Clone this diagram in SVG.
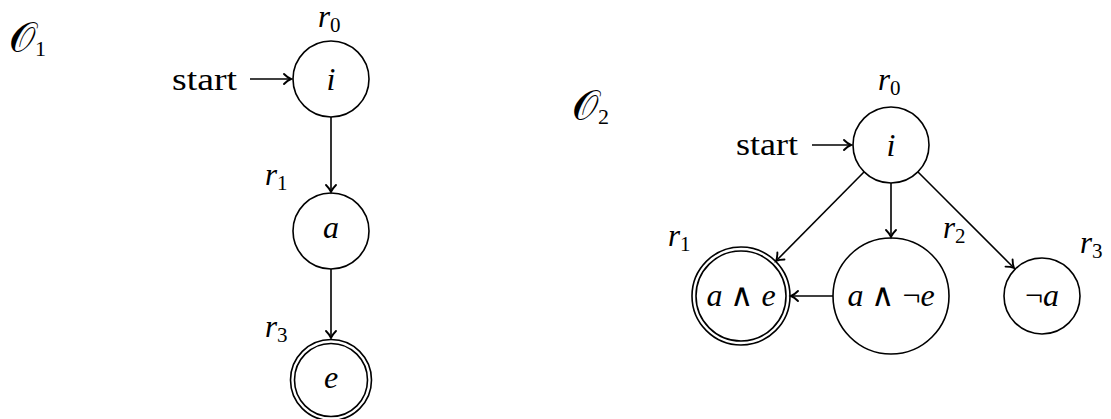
<svg xmlns="http://www.w3.org/2000/svg" width="1111" height="419" viewBox="0 0 1111 419">
<style>
.st{fill:none;stroke:#000;stroke-width:1.6}
.e{stroke:#000;stroke-width:1.6;fill:none;marker-end:url(#ah)}
</style>
<defs>
<marker id="ah" markerUnits="userSpaceOnUse" markerWidth="20" markerHeight="20" viewBox="-10 -10 20 20" refX="0" refY="0" orient="auto" overflow="visible">
<path d="M-7,-5 C-4,-2 -1.5,-0.6 0,0 C-1.5,0.6 -4,2 -7,5" fill="none" stroke="#000" stroke-width="1.9" stroke-linecap="round"/>
</marker>
</defs>
<rect width="1111" height="419" fill="#fff"/>

<text x="9" y="52" font-family="Liberation Serif" font-size="42">𝒪<tspan font-size="22" dy="4">1</tspan></text>
<text x="572" y="120" font-family="Liberation Serif" font-size="42">𝒪<tspan font-size="22" dy="4">2</tspan></text>

<g id="connectors">
<line class="e" x1="250" y1="79" x2="291" y2="79"/>
<line class="e" x1="331" y1="117" x2="331" y2="192"/>
<line class="e" x1="331" y1="269" x2="331" y2="338"/>
<line class="e" x1="812" y1="145" x2="851" y2="145"/>
<line class="e" x1="864" y1="172" x2="776" y2="261"/>
<line class="e" x1="891" y1="183" x2="891" y2="237"/>
<line class="e" x1="918" y1="172" x2="1014" y2="268"/>
<line class="e" x1="833" y1="296" x2="791" y2="296"/>
</g>

<g id="start1"><text x="172" y="90" font-family="Liberation Serif" font-size="32" textLength="65" lengthAdjust="spacingAndGlyphs">start</text></g>
<g id="L_i">
<circle class="st" cx="331" cy="79" r="38"/>
<text x="331" y="90" text-anchor="middle" font-family="Liberation Serif" font-size="32" font-style="italic">i</text>
<text x="318" y="27" font-family="Liberation Serif" font-size="31" font-style="italic">r<tspan font-style="normal" font-size="21" dy="5">0</tspan></text>
</g>
<g id="L_a">
<circle class="st" cx="331" cy="231" r="38"/>
<text x="331" y="238" text-anchor="middle" font-family="Liberation Serif" font-size="32" font-style="italic">a</text>
<text x="265" y="185" font-family="Liberation Serif" font-size="31" font-style="italic">r<tspan font-style="normal" font-size="21" dy="5">1</tspan></text>
</g>
<g id="L_e">
<circle class="st" cx="331" cy="380" r="40.5"/>
<circle class="st" cx="331" cy="380" r="36.5"/>
<text x="331" y="388" text-anchor="middle" font-family="Liberation Serif" font-size="32" font-style="italic">e</text>
<text x="265" y="337" font-family="Liberation Serif" font-size="31" font-style="italic">r<tspan font-style="normal" font-size="21" dy="5">3</tspan></text>
</g>

<g id="start2"><text x="736" y="155" font-family="Liberation Serif" font-size="32" textLength="62" lengthAdjust="spacingAndGlyphs">start</text></g>
<g id="R_i">
<circle class="st" cx="891" cy="145" r="38"/>
<text x="891" y="156" text-anchor="middle" font-family="Liberation Serif" font-size="32" font-style="italic">i</text>
<text x="878" y="90" font-family="Liberation Serif" font-size="31" font-style="italic">r<tspan font-style="normal" font-size="21" dy="5">0</tspan></text>
</g>
<g id="R_ae">
<circle class="st" cx="741" cy="296" r="49"/>
<circle class="st" cx="741" cy="296" r="45"/>
<text x="741" y="306" text-anchor="middle" font-family="Liberation Serif" font-size="32" font-style="italic">a <tspan font-style="normal">∧</tspan> e</text>
<text x="668" y="246" font-family="Liberation Serif" font-size="31" font-style="italic">r<tspan font-style="normal" font-size="21" dy="5">1</tspan></text>
</g>
<g id="R_ane">
<circle class="st" cx="891" cy="296" r="58"/>
<text x="891" y="306" text-anchor="middle" font-family="Liberation Serif" font-size="32" font-style="italic">a <tspan font-style="normal">∧ ¬</tspan>e</text>
<text x="943" y="238" font-family="Liberation Serif" font-size="31" font-style="italic">r<tspan font-style="normal" font-size="21" dy="5">2</tspan></text>
</g>
<g id="R_na">
<circle class="st" cx="1042" cy="296" r="38"/>
<text x="1042" y="306" text-anchor="middle" font-family="Liberation Serif" font-size="32" font-style="italic"><tspan font-style="normal">¬</tspan>a</text>
<text x="1080" y="253" font-family="Liberation Serif" font-size="31" font-style="italic">r<tspan font-style="normal" font-size="21" dy="5">3</tspan></text>
</g>
</svg>
